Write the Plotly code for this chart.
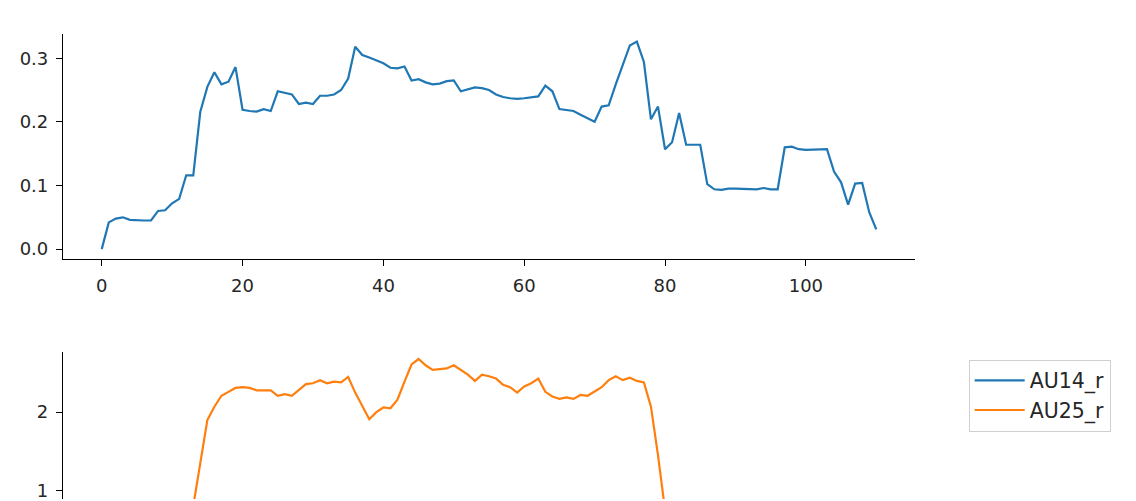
import plotly.graph_objects as go
from plotly.subplots import make_subplots

# action unit intensities per frame
au14_r = [
    0.000, 0.042, 0.048, 0.050, 0.046, 0.045, 0.045, 0.045, 0.060, 0.061,
    0.072, 0.079, 0.116, 0.116, 0.216, 0.255, 0.278, 0.259, 0.263, 0.286,
    0.219, 0.217, 0.216, 0.220, 0.217, 0.248, 0.246, 0.243, 0.228, 0.230,
    0.228, 0.241, 0.241, 0.243, 0.250, 0.268, 0.318, 0.305, 0.301, 0.296,
    0.292, 0.285, 0.284, 0.287, 0.265, 0.267, 0.262, 0.259, 0.260, 0.264,
    0.265, 0.248, 0.251, 0.254, 0.253, 0.250, 0.243, 0.239, 0.237, 0.236,
    0.237, 0.238, 0.240, 0.257, 0.248, 0.220, 0.218, 0.217, 0.211, 0.206,
    0.200, 0.224, 0.226, 0.259, 0.291, 0.320, 0.326, 0.294, 0.204, 0.224,
    0.157, 0.168, 0.214, 0.164, 0.164, 0.164, 0.102, 0.094, 0.093, 0.095,
    0.095, 0.095, 0.094, 0.094, 0.096, 0.094, 0.094, 0.160, 0.161, 0.157,
    0.156, 0.156, 0.156, 0.157, 0.122, 0.105, 0.070, 0.103, 0.104, 0.058,
    0.031,
]

au25_r = [
    0.00, 0.02, 0.03, 0.03, 0.04, 0.04, 0.05, 0.05, 0.06, 0.08,
    0.10, 0.15, 0.30, 0.80, 1.38, 1.90, 2.07, 2.21, 2.26, 2.31,
    2.32, 2.31, 2.28, 2.28, 2.28, 2.21, 2.23, 2.21, 2.28, 2.36,
    2.37, 2.41, 2.37, 2.39, 2.38, 2.45, 2.25, 2.08, 1.91, 2.00,
    2.06, 2.05, 2.16, 2.39, 2.61, 2.68, 2.60, 2.54, 2.55, 2.56,
    2.60, 2.54, 2.48, 2.40, 2.48, 2.46, 2.43, 2.35, 2.32, 2.25,
    2.33, 2.37, 2.43, 2.26, 2.20, 2.17, 2.19, 2.17, 2.22, 2.21,
    2.27, 2.32, 2.41, 2.46, 2.41, 2.44, 2.40, 2.38, 2.07, 1.45,
    0.75, 0.45, 0.35, 0.30, 0.28, 0.25, 0.20, 0.18, 0.17, 0.16,
    0.15, 0.15, 0.14, 0.14, 0.14, 0.13, 0.13, 0.15, 0.16, 0.15,
    0.14, 0.13, 0.12, 0.11, 0.09, 0.07, 0.05, 0.04, 0.03, 0.02,
    0.01,
]

frames = list(range(len(au14_r)))
x_ticks = [0, 20, 40, 60, 80, 100]

BLUE = "#1f77b4"
ORANGE = "#ff7f0e"
FONT = "DejaVu Sans"

fig = make_subplots(rows=2, cols=1, vertical_spacing=0.0)
fig.add_trace(
    go.Scatter(x=frames, y=au14_r, mode="lines", name="AU14_r",
               line=dict(color=BLUE, width=2.2)),
    row=1, col=1,
)
fig.add_trace(
    go.Scatter(x=frames, y=au25_r, mode="lines", name="AU25_r",
               line=dict(color=ORANGE, width=2.2)),
    row=2, col=1,
)

axis_style = dict(
    showgrid=False, zeroline=False, showline=True, linecolor="black", linewidth=1.2,
    ticks="outside", ticklen=6, tickwidth=1.2, tickcolor="black",
    tickfont=dict(family=FONT, size=18, color="#262626"), ticklabelstandoff=4,
    ticklabeloverflow="allow",
)

fig.update_xaxes(axis_style, row=1, col=1)
fig.update_xaxes(range=[-5.5, 115.5], tickvals=x_ticks, domain=[0, 1], row=1, col=1)
fig.update_yaxes(axis_style, row=1, col=1)
fig.update_yaxes(range=[-0.0156, 0.338], tickvals=[0.0, 0.1, 0.2, 0.3],
                 tickformat=".1f", domain=[0.516, 1.0], row=1, col=1)

# lower panel is cut off by the bottom of the picture
fig.update_xaxes(range=[-5.5, 115.5], domain=[0, 1], showline=False, showgrid=False,
                 zeroline=False, showticklabels=False, ticks="", row=2, col=1)
fig.update_yaxes(axis_style, row=2, col=1)
fig.update_yaxes(range=[0.889, 2.775], tickvals=[1, 2], domain=[0, 0.317], row=2, col=1)

# the page body adds an 8px offset, so the figure is 8px smaller
fig.update_layout(
    width=1128,
    height=493,
    margin=dict(l=55, r=221, t=26, b=0),
    plot_bgcolor="white",
    paper_bgcolor="white",
    font=dict(family=FONT, size=18, color="#262626"),
    showlegend=True,
    legend=dict(
        x=1.063, y=0.30, xanchor="left", yanchor="top",
        bordercolor="#d0d0d0", borderwidth=1, bgcolor="white",
        font=dict(family=FONT, size=20.5, color="#262626"),
        itemwidth=50,
        tracegroupgap=4,
    ),
)

fig.write_html("out.html")
